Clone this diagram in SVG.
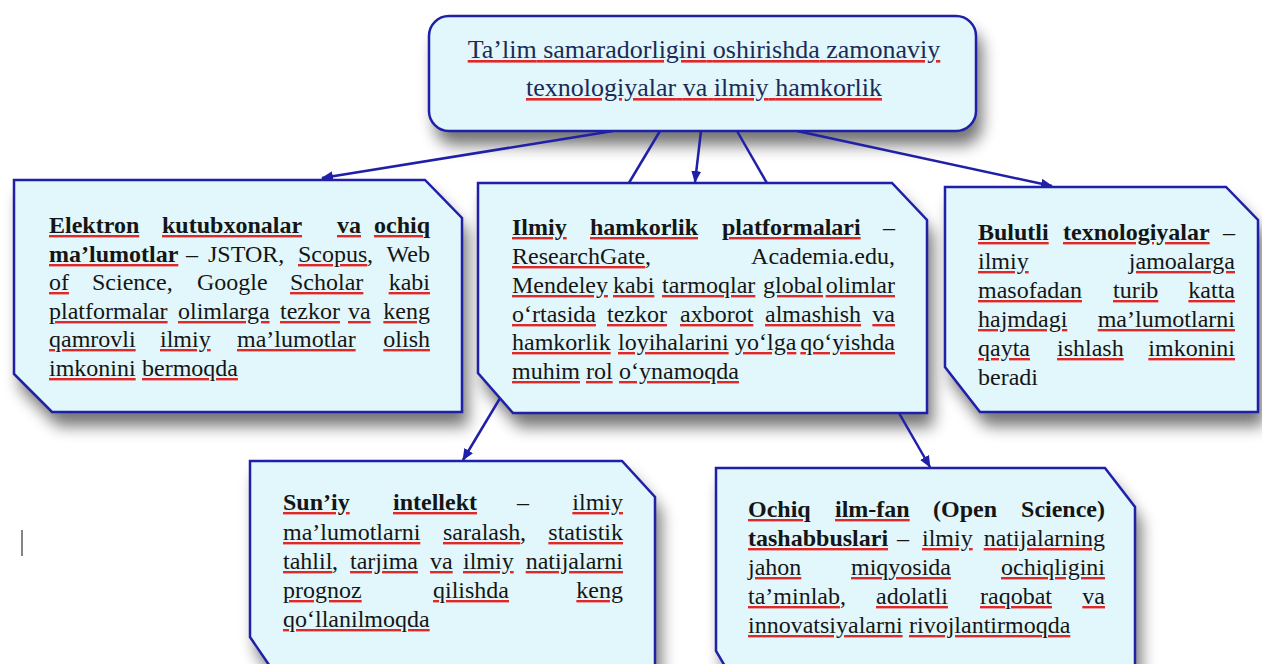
<svg xmlns="http://www.w3.org/2000/svg" width="1262" height="664" viewBox="0 0 1262 664">
<style>
.box{fill:#e1f7fb;stroke:#1f1fa8;stroke-width:2.5;stroke-linejoin:miter}
.shd{fill:#000;filter:url(#sh)}
.t{font-family:"Liberation Serif","Times New Roman",serif;font-size:24px;fill:#151515}
.title{font-family:"Liberation Serif","Times New Roman",serif;font-size:26px;text-anchor:middle}
.ud{fill:#e02828;text-decoration:underline}
.k{fill:#151515}
.nv{fill:#1b2a57}
.b{font-weight:bold}
.e{text-anchor:end}
.con{fill:none;stroke:#1f1fa8;stroke-width:2.5}
.arr{marker-end:url(#ah)}
</style>
<defs>
<filter id="sh" x="-20%" y="-20%" width="150%" height="170%">
<feGaussianBlur in="SourceAlpha" stdDeviation="8"/>
<feOffset dx="6" dy="14"/>
<feComponentTransfer><feFuncA type="linear" slope="0.55"/></feComponentTransfer>
</filter>
<marker id="ah" markerUnits="userSpaceOnUse" markerWidth="12" markerHeight="10" refX="11" refY="5" orient="auto">
<path d="M0,0 L12,5 L0,10 Z" fill="#1f1fa8"/>
</marker>
</defs>
<rect width="1262" height="664" fill="#ffffff"/>

<g id="shadows">
<rect class="shd" x="429" y="16" width="547" height="115" rx="20"/>
<path class="shd" d="M14,180 H425 L462,218 V412 H52 L14,374 Z"/>
<path class="shd" d="M478,183 H892 L927,220 V413 H513 L478,373 Z"/>
<path class="shd" d="M945,187 H1226 L1258,220 V412 H980 L945,367 Z"/>
<path class="shd" d="M250,461 H622 L655,497 V700 H293 L250,637 Z"/>
<path class="shd" d="M716,468 H1105 L1135,507 V700 H745 L716,651 Z"/>
</g>

<g id="connectors">
<path class="con arr" d="M613,131 L322,178"/>
<path class="con arr" d="M660,131 L463,460"/>
<path class="con arr" d="M701,131 L695,182"/>
<path class="con arr" d="M737,131 L930,467"/>
<path class="con arr" d="M797,131 L1052,186"/>
</g>

<g id="n-title">
<rect class="box" x="429" y="16" width="547" height="115" rx="20"/>
<text class="title ud" x="704" y="58"><tspan class="nv">Ta’lim</tspan> <tspan class="nv">samaradorligini</tspan> <tspan class="nv">oshirishda</tspan> <tspan class="nv">zamonaviy</tspan></text>
<text class="title ud" x="704" y="96"><tspan class="nv">texnologiyalar</tspan> <tspan class="nv">va</tspan> <tspan class="nv">ilmiy</tspan> <tspan class="nv">hamkorlik</tspan></text>
</g>

<g id="n-elektron">
<path class="box" d="M14,180 H425 L462,218 V412 H52 L14,374 Z"/>
<text class="t ud b" y="233"><tspan x="49" class="k">Elektron</tspan><tspan x="162" class="k">kutubxonalar</tspan><tspan x="337" class="k">va</tspan></text>
<text class="t ud b e" x="430" y="233"><tspan class="k">ochiq</tspan></text>
<text class="t ud" y="262"><tspan x="49" class="k b">ma’lumotlar</tspan><tspan x="298" class="k">Scopus</tspan></text>
<text class="t" y="262"><tspan x="186">–</tspan><tspan x="208">JSTOR,</tspan><tspan x="367">,</tspan></text>
<text class="t e" x="430" y="262">Web</text>
<text class="t ud" y="290"><tspan x="49" class="k">of</tspan><tspan x="290" class="k">Scholar</tspan></text>
<text class="t" y="290"><tspan x="92">Science,</tspan><tspan x="197">Google</tspan></text>
<text class="t ud e" x="430" y="290"><tspan class="k">kabi</tspan></text>
<text class="t ud" y="319"><tspan x="49" class="k">platformalar</tspan><tspan x="178" class="k">olimlarga</tspan><tspan x="280" class="k">tezkor</tspan><tspan x="348" class="k">va</tspan></text>
<text class="t ud e" x="430" y="319"><tspan class="k">keng</tspan></text>
<text class="t ud" y="347"><tspan x="49" class="k">qamrovli</tspan><tspan x="160" class="k">ilmiy</tspan><tspan x="237" class="k">ma’lumotlar</tspan></text>
<text class="t ud e" x="430" y="347"><tspan class="k">olish</tspan></text>
<text class="t ud" y="376"><tspan x="49" class="k">imkonini</tspan><tspan x="142" class="k">bermoqda</tspan></text>
</g>

<g id="n-ilmiy">
<path class="box" d="M478,183 H892 L927,220 V413 H513 L478,373 Z"/>
<text class="t ud b" y="235"><tspan x="512" class="k">Ilmiy</tspan><tspan x="590" class="k">hamkorlik</tspan><tspan x="722" class="k">platformalari</tspan></text>
<text class="t e" x="895" y="235">–</text>
<text class="t ud" x="512" y="264"><tspan class="k">ResearchGate</tspan></text>
<text class="t" x="645" y="264">,</text>
<text class="t e" x="895" y="264">Academia.edu,</text>
<text class="t ud" y="293"><tspan x="512" class="k">Mendeley</tspan><tspan x="613" class="k">kabi</tspan><tspan x="662" class="k">tarmoqlar</tspan><tspan x="763" class="k">global</tspan></text>
<text class="t ud e" x="895" y="293"><tspan class="k">olimlar</tspan></text>
<text class="t ud" y="322"><tspan x="512" class="k">o‘rtasida</tspan><tspan x="607" class="k">tezkor</tspan><tspan x="680" class="k">axborot</tspan><tspan x="765" class="k">almashish</tspan></text>
<text class="t ud e" x="895" y="322"><tspan class="k">va</tspan></text>
<text class="t ud" y="350"><tspan x="512" class="k">hamkorlik</tspan><tspan x="618" class="k">loyihalarini</tspan><tspan x="735" class="k">yo‘lga</tspan></text>
<text class="t ud e" x="895" y="350"><tspan class="k">qo‘yishda</tspan></text>
<text class="t ud" y="379"><tspan x="512" class="k">muhim</tspan><tspan x="586" class="k">rol</tspan><tspan x="619" class="k">o‘ynamoqda</tspan></text>
</g>

<g id="n-bulutli">
<path class="box" d="M945,187 H1226 L1258,220 V412 H980 L945,367 Z"/>
<text class="t ud b" y="240"><tspan x="978" class="k">Bulutli</tspan><tspan x="1063" class="k">texnologiyalar</tspan></text>
<text class="t e" x="1235" y="240">–</text>
<text class="t ud" x="978" y="269"><tspan class="k">ilmiy</tspan></text>
<text class="t ud e" x="1235" y="269"><tspan class="k">jamoalarga</tspan></text>
<text class="t ud" y="298"><tspan x="978" class="k">masofadan</tspan><tspan x="1113" class="k">turib</tspan></text>
<text class="t ud e" x="1235" y="298"><tspan class="k">katta</tspan></text>
<text class="t ud" x="978" y="327"><tspan class="k">hajmdagi</tspan></text>
<text class="t ud e" x="1235" y="327"><tspan class="k">ma’lumotlarni</tspan></text>
<text class="t ud" y="356"><tspan x="978" class="k">qayta</tspan><tspan x="1057" class="k">ishlash</tspan></text>
<text class="t ud e" x="1235" y="356"><tspan class="k">imkonini</tspan></text>
<text class="t" x="978" y="385">beradi</text>
</g>

<g id="n-suniy">
<path class="box" d="M250,461 H622 L655,497 V700 H293 L250,637 Z"/>
<text class="t ud b" y="510"><tspan x="283" class="k">Sun’iy</tspan><tspan x="393" class="k">intellekt</tspan></text>
<text class="t" x="517" y="510">–</text>
<text class="t ud e" x="623" y="510"><tspan class="k">ilmiy</tspan></text>
<text class="t ud" y="540"><tspan x="283" class="k">ma’lumotlarni</tspan><tspan x="443" class="k">saralash</tspan></text>
<text class="t" x="520" y="540">,</text>
<text class="t ud e" x="623" y="540"><tspan class="k">statistik</tspan></text>
<text class="t ud" y="569"><tspan x="283" class="k">tahlil</tspan><tspan x="350" class="k">tarjima</tspan><tspan x="430" class="k">va</tspan><tspan x="463" class="k">ilmiy</tspan></text>
<text class="t" x="332" y="569">,</text>
<text class="t ud e" x="623" y="569"><tspan class="k">natijalarni</tspan></text>
<text class="t ud" y="598"><tspan x="283" class="k">prognoz</tspan><tspan x="433" class="k">qilishda</tspan></text>
<text class="t ud e" x="623" y="598"><tspan class="k">keng</tspan></text>
<text class="t ud" x="283" y="627"><tspan class="k">qo‘llanilmoqda</tspan></text>
</g>

<g id="n-ochiq">
<path class="box" d="M716,468 H1105 L1135,507 V700 H745 L716,651 Z"/>
<text class="t ud b" y="517"><tspan x="748" class="k">Ochiq</tspan><tspan x="835" class="k">ilm-fan</tspan></text>
<text class="t b" x="933" y="517">(Open</text>
<text class="t e b" x="1105" y="517">Science)</text>
<text class="t ud" y="546"><tspan x="748" class="k b">tashabbuslari</tspan><tspan x="922" class="k">ilmiy</tspan></text>
<text class="t" x="897" y="546">–</text>
<text class="t ud e" x="1105" y="546"><tspan class="k">natijalarning</tspan></text>
<text class="t ud" y="575"><tspan x="748" class="k">jahon</tspan><tspan x="851" class="k">miqyosida</tspan></text>
<text class="t ud e" x="1105" y="575"><tspan class="k">ochiqligini</tspan></text>
<text class="t ud" y="604"><tspan x="748" class="k">ta’minlab</tspan><tspan x="876" class="k">adolatli</tspan><tspan x="980" class="k">raqobat</tspan></text>
<text class="t" x="840" y="604">,</text>
<text class="t ud e" x="1105" y="604"><tspan class="k">va</tspan></text>
<text class="t ud" y="633"><tspan x="748" class="k">innovatsiyalarni</tspan><tspan x="909" class="k">rivojlantirmoqda</tspan></text>
</g>

<line x1="22" y1="530" x2="22" y2="556" stroke="#333333" stroke-width="1.2"/>
</svg>
